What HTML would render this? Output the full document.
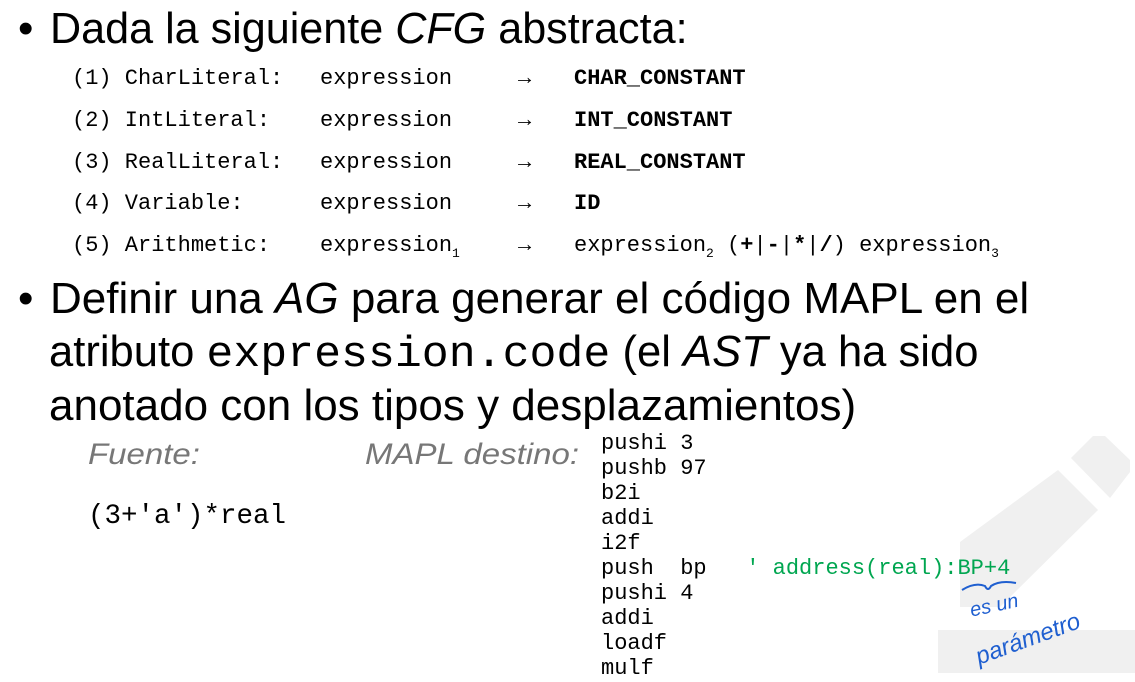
<!DOCTYPE html>
<html><head><meta charset="utf-8"><style>
body{margin:0;width:1135px;height:682px;background:#fff;position:relative;overflow:hidden;font-family:"Liberation Sans",sans-serif;color:#000}
.a{position:absolute;white-space:pre;transform-origin:0 0}
.t{font-size:44px;transform:scaleX(0.98);line-height:54px}
.m{font-family:"Liberation Mono",monospace}
.r{font-size:22px;line-height:26px}
.c{font-size:22px;line-height:25px}
b{font-weight:bold}
sub{font-size:13px;vertical-align:-6px;line-height:0}
.g{color:#777;font-style:italic;font-size:30px;transform:scaleX(1.1)}
</style></head><body>
<svg class="a" style="left:0;top:0" width="1135" height="682">
<polygon points="938,630 1135,630 1135,673 938,673" fill="#f0f0f0"/>
<polygon points="960,607 960,542 1058,470 1098,510 1000,607" fill="#f0f0f0"/>
<polygon points="1071,458 1093,436 1105,436 1130,460 1130,472 1110,498" fill="#f0f0f0"/>
<path d="M962,590 Q975,582 985,586 Q988,592 991,586 Q1000,580 1016,583" stroke="#1f5fd0" stroke-width="2" fill="none"/>
</svg>
<div class="a" style="left:18px;top:2px;font-size:44px;line-height:54px">•</div>
<div class="a" style="left:18px;top:272px;font-size:44px;line-height:54px">•</div>
<div class="a t" style="left:50px;top:2px">Dada la siguiente <i>CFG</i> abstracta:</div>
<div class="a m r" style="left:72px;top:66px">(1) CharLiteral:</div><div class="a m r" style="left:320px;top:66px">expression</div><div class="a m r" style="left:518px;top:66px"><b>→</b></div><div class="a m r" style="left:574px;top:66px"><b>CHAR_CONSTANT</b></div>
<div class="a m r" style="left:72px;top:108px">(2) IntLiteral:</div><div class="a m r" style="left:320px;top:108px">expression</div><div class="a m r" style="left:518px;top:108px"><b>→</b></div><div class="a m r" style="left:574px;top:108px"><b>INT_CONSTANT</b></div>
<div class="a m r" style="left:72px;top:150px">(3) RealLiteral:</div><div class="a m r" style="left:320px;top:150px">expression</div><div class="a m r" style="left:518px;top:150px"><b>→</b></div><div class="a m r" style="left:574px;top:150px"><b>REAL_CONSTANT</b></div>
<div class="a m r" style="left:72px;top:191px">(4) Variable:</div><div class="a m r" style="left:320px;top:191px">expression</div><div class="a m r" style="left:518px;top:191px"><b>→</b></div><div class="a m r" style="left:574px;top:191px"><b>ID</b></div>
<div class="a m r" style="left:72px;top:233px">(5) Arithmetic:</div><div class="a m r" style="left:320px;top:233px">expression<sub>1</sub></div><div class="a m r" style="left:518px;top:233px"><b>→</b></div><div class="a m r" style="left:574px;top:233px">expression<sub>2</sub> (<b>+</b>|<b>-</b>|<b>*</b>|<b>/</b>) expression<sub>3</sub></div>
<div class="a t" style="left:50px;top:272px;transform:scaleX(1.0)">Definir una <i>AG</i> para generar el código MAPL en el</div>
<div class="a t" style="left:49px;top:325px;transform:scaleX(0.99)">atributo <span class="m" style="font-size:44px;display:inline-block;transform:scaleX(1.03);transform-origin:0 0;margin-right:12px">expression.code</span> (el <i>AST</i> ya ha sido</div>
<div class="a t" style="left:49px;top:379px;transform:scaleX(1.0)">anotado con los tipos y desplazamientos)</div>
<div class="a g" style="left:88px;top:438px">Fuente:</div>
<div class="a g" style="left:365px;top:438px">MAPL destino:</div>
<div class="a m" style="left:88px;top:501px;font-size:27.5px">(3+'a')*real</div>
<div class="a m c" style="left:601px;top:431px">pushi 3
pushb 97
b2i
addi
i2f
push  bp   <span style="color:#00a650">' address(real):BP+4</span>
pushi 4
addi
loadf
mulf</div>
<div class="a" style="left:968px;top:600px;color:#1f5fd0;font-style:italic;font-size:20px;transform:rotate(-12deg)">es un</div>
<div class="a" style="left:972px;top:645px;color:#1f5fd0;font-style:italic;font-size:24px;transform:rotate(-20deg)">parámetro</div>
</body></html>
